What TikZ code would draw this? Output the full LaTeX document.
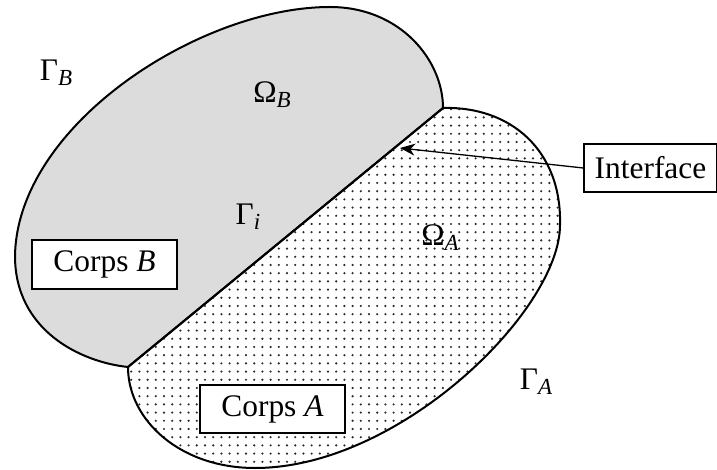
\documentclass[tikz,border=0pt]{standalone}
\usepackage{fontspec}
\setmainfont{Liberation Serif}
\usepackage{xcolor}
\usetikzlibrary{arrows.meta, patterns.meta}
\definecolor{corpsgray}{HTML}{DCDCDC}
\definecolor{dotgray}{HTML}{2A2A2A}
\newcommand{\lowsub}[1]{\raisebox{-2.6pt}{\fontsize{11.5}{12}\selectfont\itshape #1}}

\begin{document}
\begin{tikzpicture}[x=0.5pt, y=-0.5pt,
  every node/.style={font=\fontsize{15.7}{18}\selectfont},
  corpsbox/.style={draw, fill=white, line width=0.65pt, inner sep=0pt,
    minimum width=72.5pt, minimum height=24.5pt},
  bord/.style={line width=1pt, line join=round}]
\useasboundingbox (0,0) rectangle (717,470);

\coordinate (T) at (443,108);
\coordinate (C) at (128,367);
\coordinate (Btop) at (330,7);
\coordinate (Bleft) at (15,256);
\coordinate (Aright) at (560,225);
\coordinate (Abot) at (255,468);

\draw[bord, fill=corpsgray] (T) .. controls (443,60) and (400,7) .. (Btop)
  .. controls (200,7) and (17,125) .. (Bleft)
  .. controls (15,330) and (80,362) .. (C) -- cycle;
\draw[bord, pattern={Dots[radius=0.6pt, distance=4.1pt]}, pattern color=dotgray]
  (T) .. controls (510,106) and (562,150) .. (Aright)
  .. controls (560,310) and (400,468) .. (Abot)
  .. controls (180,468) and (128,420) .. (C) -- cycle;

\node (gammaB) at (56,73) {Γ\lowsub{B}};
\node (omegaB) at (272,95) {Ω\lowsub{B}};
\node (gammai) at (248,217) {Γ\lowsub{i}};
\node (omegaA) at (440,238) {Ω\lowsub{A}};
\node (gammaA) at (536,382) {Γ\lowsub{A}};

\node[corpsbox] (corpsB) at (104.5,264.5) {Corps \textit{B}};
\node[corpsbox, minimum height=24pt] (corpsA) at (272.5,409) {Corps \textit{A}};
\node[corpsbox, minimum width=66.5pt, minimum height=24pt] (interface) at (650.5,168) {Interface};

\coordinate (tip) at (400,148);
\draw[-{Stealth[length=7.5pt, width=6pt, inset=2.4pt]}, line width=0.65pt] (interface.west) -- (tip);
\end{tikzpicture}
\end{document}
